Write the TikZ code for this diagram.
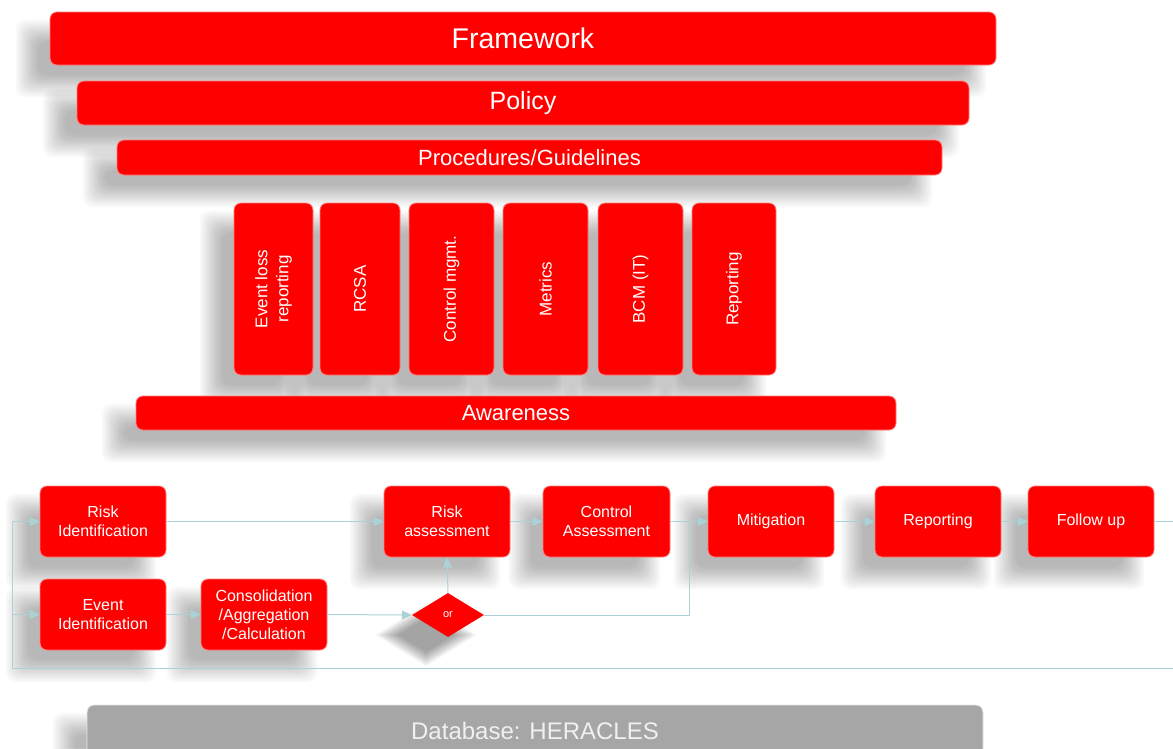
\documentclass[tikz,border=0pt]{standalone}
\usepackage{fontspec}
\setmainfont{Liberation Sans}
\usetikzlibrary{shapes.geometric,arrows.meta,backgrounds}
\definecolor{boxred}{RGB}{255,0,0}
\definecolor{boxedge}{RGB}{255,125,125}
\definecolor{flow}{RGB}{170,210,215}
\definecolor{dbgray}{RGB}{166,166,166}
\tikzset{
  redbox/.style={rectangle, rounded corners=7pt, fill=boxred, draw=boxedge, line width=0.8pt,
    text=white, align=center, inner sep=0pt},
  layer/.style={redbox},
  pillar/.style={redbox, minimum width=#1, minimum height=172pt},
  pillartext/.style={rotate=90, text=white, align=center, font=\fontsize{17}{21}\selectfont, inner sep=0pt},
  procbox/.style={redbox, minimum width=126pt, minimum height=71pt,
    font=\fontsize{16}{19}\selectfont},
  flowline/.style={draw=flow, line width=1pt},
  flowarrow/.style={flowline, -{Triangle[length=10pt,width=9pt]}},
  shadelayer/.style={fill=black, opacity=0.021},
}
% soft drop shadow: stacked translucent rounded rectangles, offset down-left
\newcommand\dropshade[1]{%
  \foreach \e in {12,10.4,...,-12}{%
    \fill[shadelayer, rounded corners=10pt]
      ([shift={(-22-\e,20-\e)}]#1.north west) rectangle ([shift={(-22+\e,20+\e)}]#1.south east);
  }}
\newcommand\diamondshade[1]{%
  \foreach \e in {9,7.8,...,-6}{%
    \fill[shadelayer, opacity=0.03]
      ([shift={(-22,20-\e)}]#1.north) -- ([shift={(-22+\e*1.6,20)}]#1.east) --
      ([shift={(-22,20+\e)}]#1.south) -- ([shift={(-22-\e*1.6,20)}]#1.west) -- cycle;
  }}
\begin{document}
\begin{tikzpicture}[x=1pt,y=-1pt]
\clip (0,0) rectangle (1173,748);

% governance layers
\node[layer, minimum width=946pt, minimum height=53pt, font=\fontsize{28.5}{32}\selectfont]
  (framework) at (523,38.5) {Framework};
\node[layer, minimum width=892pt, minimum height=44pt, font=\fontsize{25}{28}\selectfont]
  (policy) at (523,103) {Policy};
\node[layer, minimum width=825pt, minimum height=35pt, font=\fontsize{22}{24}\selectfont]
  (procedures) at (529.5,157.5) {Procedures/Guidelines};

% pillars
\node[pillar=79pt] (elr) at (273.5,289) {};
\node[pillar=80pt] (rcsa) at (360,289) {};
\node[pillar=85pt] (ctrl) at (451.5,289) {};
\node[pillar=85pt] (metrics) at (545.5,289) {};
\node[pillar=85pt] (bcm) at (640.5,289) {};
\node[pillar=84pt] (rep) at (734,289) {};
\node[pillartext] (elrT) at (elr) {Event loss\\reporting};
\node[pillartext] (rcsaT) at (rcsa) {RCSA};
\node[pillartext] (ctrlT) at (ctrl) {Control mgmt.};
\node[pillartext] (metricsT) at (metrics) {Metrics};
\node[pillartext] (bcmT) at (bcm) {BCM (IT)};
\node[pillartext] (repT) at (rep) {Reporting};

\node[layer, minimum width=760pt, minimum height=34pt, font=\fontsize{22}{24}\selectfont]
  (awareness) at (516,413) {Awareness};

% process flow
\node[procbox] (riskid) at (103,521.5) {Risk\\Identification};
\node[procbox] (eventid) at (103,614.5) {Event\\Identification};
\node[procbox] (consol) at (264,614.5) {Consolidation\\/Aggregation\\/Calculation};
\node[procbox] (riskass) at (447,521.5) {Risk\\assessment};
\node[procbox, minimum width=127pt] (ctrlass) at (606.5,521.5) {Control\\Assessment};
\node[procbox] (mitig) at (771,521.5) {Mitigation};
\node[procbox] (report) at (938,521.5) {Reporting};
\node[procbox] (follow) at (1091,521.5) {Follow up};
\node[diamond, fill=boxred, text=white, inner sep=0pt, minimum width=72pt, minimum height=44pt,
  font=\fontsize{11}{13}\selectfont]
  (orgate) at (448,615) {or};

\coordinate (join) at (689,521.5);
\coordinate (loopR) at (1190,668);
\coordinate (loopL) at (12,668);

\draw[flowarrow] (riskid.east) -- (riskass.west);
\draw[flowarrow] (riskass.east) -- (ctrlass.west);
\draw[flowarrow] (ctrlass.east) -- (mitig.west);
\draw[flowarrow] (mitig.east) -- (report.west);
\draw[flowarrow] (report.east) -- (follow.west);
\draw[flowarrow] (eventid.east) -- (consol.west);
\draw[flowarrow] (consol.east) -- (orgate.west);
\draw[flowarrow] (orgate.north) -- (riskass.south);
\draw[flowline] (orgate.east) -| (join);
\draw[flowline] (follow.east) -| (loopR) -- (loopL);
\draw[flowarrow] (loopL) |- (riskid.west);
\draw[flowarrow] (loopL) |- (eventid.west);

% data store
\node[rectangle, rounded corners=7pt, fill=dbgray, draw=white!75!dbgray, line width=0.8pt,
  minimum width=896pt, minimum height=56pt, inner sep=0pt]
  (db) at (535,733) {};
\node[text=white!94!black, font=\fontsize{24}{27}\selectfont, inner sep=0pt] (dbT) at (535,731) {Database: HERACLES};

% page and shadows behind everything
\begin{scope}[on background layer]
  \fill[white] (0,0) rectangle (1173,748);
  \foreach \n in {framework,policy,procedures,elr,rcsa,ctrl,metrics,bcm,rep,awareness,
                  riskid,eventid,consol,riskass,ctrlass,mitig,report,follow,db}{\dropshade{\n}}
  \diamondshade{orgate}
\end{scope}
\end{tikzpicture}
\end{document}
